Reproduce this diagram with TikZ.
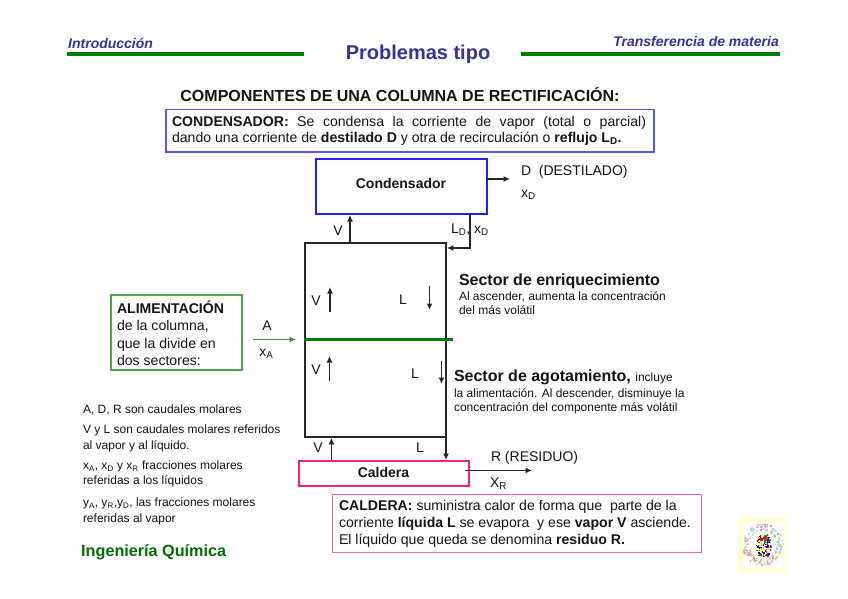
\documentclass[tikz,border=0pt]{standalone}
\usepackage{fontspec}
\setmainfont{Liberation Sans}
\usetikzlibrary{arrows.meta}
\definecolor{titleblue}{RGB}{51,51,153}
\definecolor{rulegreen}{RGB}{0,128,0}
\definecolor{boxblue}{RGB}{30,30,255}
\definecolor{boxpink}{RGB}{255,30,120}
\definecolor{txt}{RGB}{20,20,20}
\definecolor{logoy}{RGB}{255,255,210}
\newcommand{\fs}[1]{\fontsize{#1}{#1}\selectfont}
\newcommand{\sbs}[1]{\textsubscript{#1}}
\tikzset{
 x=1pt,y=-1pt,
 lab/.style={inner sep=0pt,outer sep=0pt,text=txt,font=\fs{14}},
 small/.style={lab,font=\fs{12},align=left,anchor=north west},
 para/.style={lab,align=left,anchor=north west,font=\fs{14.1}},
 head/.style={text=titleblue,inner sep=0pt,font=\fs{14}\bfseries\itshape},
 flow/.style={draw=black!85,line width=1.2pt,-{Latex[length=6.5pt,width=6pt]}},
 blockb/.style={draw=boxblue,line width=2pt,inner sep=0pt},
 blockp/.style={draw=boxpink,line width=2pt,inner sep=0pt},
 headrule/.style={draw=rulegreen,line width=3.4pt},
 divider/.style={draw=rulegreen,line width=2.2pt},
}
\begin{document}
\begin{tikzpicture}
\useasboundingbox[fill=white] (0,0) rectangle (848,599);
% header
\node[head,anchor=base west] (intro) at (68,48.5) {Introducción};
\node[head,anchor=base east] (transf) at (779,47) {Transferencia de materia};
\node[text=titleblue,inner sep=0pt,font=\fs{20}\bfseries,anchor=base] (title) at (418,60) {Problemas tipo};
\coordinate (r1a) at (67,54); \coordinate (r1b) at (304,54);
\coordinate (r2a) at (521,54); \coordinate (r2b) at (780,54);
\draw[headrule] (r1a) -- (r1b);
\draw[headrule] (r2a) -- (r2b);
\node[lab,font=\fs{16}\bfseries,anchor=base] (comp) at (400,101.5) {COMPONENTES DE UNA COLUMNA DE RECTIFICACIÓN:};
% condenser note
\node[draw=boxblue!75,line width=1.5pt,minimum width=488,minimum height=42,inner sep=0pt,anchor=north west] (cnote) at (165,109) {};
\node[lab,font=\fs{14.1},anchor=base west] (cn1) at (172,126) {\makebox[474pt][s]{\textbf{CONDENSADOR:} Se condensa la corriente de vapor (total o parcial)}};
\node[lab,font=\fs{14.1},anchor=base west] (cn2) at (172,142.5) {dando una corriente de \textbf{destilado D} y otra de recirculación o \textbf{reflujo L\sbs{D}.}};
% main blocks
\node[blockb,minimum width=171,minimum height=55,anchor=north west] (cond) at (315,158) {};
\node[lab,font=\fs{14}\bfseries] at (401,183.5) {Condensador};
\node[draw=black!85,line width=1.9pt,minimum width=141,minimum height=194,inner sep=0pt,anchor=north west] (col) at (304,242) {};
\node[blockp,minimum width=170,minimum height=25,anchor=north west] (cald) at (298,460) {};
\node[lab,font=\fs{14}\bfseries] at (383.5,472.5) {Caldera};
% condenser connectors
\draw[flow] (col.north -| 350,0) -- (cond.south -| 350,0);
\coordinate (ldc) at (470,248);
\draw[flow] (cond.south -| 470,0) -- (ldc) -- (ldc -| col.east);
\coordinate (dout) at (510,179);
\draw[flow] (dout -| cond.east) ++(-2,0) -- (dout);
\node[lab,anchor=base west] (dl) at (521,175) {D\ \ (DESTILADO)};
\node[lab,anchor=base west] (xd) at (521,197) {x\sbs{D}};
\node[lab] (vtop) at (338,231) {V};
\node[lab,anchor=base west] (ld) at (451,233) {L\sbs{D}, x\sbs{D}};
% inner arrows
\coordinate (v1a) at (330,312); \coordinate (v1b) at (330,287);
\draw[flow] (v1a) -- (v1b);
\node[lab] (v1) at (316,301) {V};
\coordinate (l1a) at (429.5,286); \coordinate (l1b) at (429.5,310);
\draw[flow] (l1a) -- (l1b);
\node[lab] (l1) at (403,300) {L};
\coordinate (v2a) at (329.5,381); \coordinate (v2b) at (329.5,356);
\draw[flow] (v2a) -- (v2b);
\node[lab] (v2) at (316,370) {V};
\coordinate (l2a) at (441.5,361); \coordinate (l2b) at (441.5,384);
\draw[flow] (l2a) -- (l2b);
\node[lab] (l2) at (415,374) {L};
% bottom connectors
\draw[flow] (cald.north -| 331.5,0) -- (col.south -| 331.5,0);
\draw[flow] (col.south -| 446,0) -- (cald.north -| 446,0);
\node[lab] (vb) at (318,448) {V};
\node[lab] (lb) at (420,448) {L};
\coordinate (rout) at (532,470.5);
\draw[flow] (rout -| cald.east) ++(-5,0) -- (rout);
\node[lab,anchor=base west] (rr) at (491,461) {R (RESIDUO)};
\node[lab,anchor=base west] (xr) at (490,487) {X\sbs{R}};
% feed
\node[draw=rulegreen!70!white,line width=1.5pt,minimum width=131,minimum height=75,inner sep=0pt,anchor=north west] (alim) at (110,294) {};
\node[para,font=\fs{14.1}] (at) at (117,301) {\textbf{ALIMENTACIÓN}\\[3.3pt]de la columna,\\[3.3pt]que la divide en\\[3.3pt]dos sectores:};
\coordinate (aa) at (253,339.5);
\draw[draw=rulegreen!80!white,line width=1.1pt,-{Latex[length=6.5pt,width=6pt]}] (aa) -- (296,339.5);
\node[lab] (a) at (267,326) {A};
\node[lab,anchor=base] (xa) at (266.5,356) {x\sbs{A}};
% sector texts
\node[lab,font=\fs{16}\bfseries,anchor=base west] (se) at (459,285) {Sector de enriquecimiento};
\node[small] (se2) at (459,291.5) {Al ascender, aumenta la concentración\\[2pt]del más volátil};
\node[lab,anchor=base west] (sa) at (454,381) {\fs{16}\textbf{Sector de agotamiento,} \fs{12}incluye};
\node[small] (sa2) at (454,388.5) {la alimentación. Al descender, disminuye la\\[2pt]concentración del componente más volátil};
% legend
\node[small] (g1) at (83,404.5) {A, D, R son caudales molares};
\node[small] (g2) at (83,424.5) {V y L son caudales molares referidos\\[4pt]al vapor y al líquido.};
\node[small] (g3) at (83,461) {x\sbs{A}, x\sbs{D} y x\sbs{R} fracciones molares\\[3pt]referidas a los líquidos};
\node[small] (g4) at (83,497.5) {y\sbs{A}, y\sbs{R},y\sbs{D}, las fracciones molares\\[4pt]referidas al vapor};
\node[inner sep=0pt,text=rulegreen!85!black,font=\fs{16.2}\bfseries,anchor=base west] (iq) at (81,556) {Ingeniería Química};
% caldera note
\node[draw=boxpink!70!white,line width=1.4pt,minimum width=369,minimum height=58,inner sep=0pt,anchor=north west] (knote) at (332,494) {};
\node[para] (kt) at (339,500.5) {\textbf{CALDERA:} suministra calor de forma que\ \ parte de la\\[3pt]corriente \textbf{líquida L} se evapora\ \ y ese \textbf{vapor V} asciende.\\[3pt]El líquido que queda se denomina \textbf{residuo R.}};
% divider
\coordinate (divL) at (304,339.5); \coordinate (divR) at (453,339.5);
\draw[divider] (divL) -- (divR);
% logo
\fill[logoy] (738,517) rectangle (786,572);
\fill[white] (743,522) rectangle (783,568);
\pgfmathsetseed{4242}
\foreach \i in {1,...,170}{
  \pgfmathsetmacro{\ang}{rnd*360}
  \pgfmathsetmacro{\rad}{14+rnd*6}
  \pgfmathsetmacro{\cc}{int(rnd*6)}
  \ifcase\cc\def\col{red!40}\or\def\col{cyan!40}\or\def\col{orange!50}\or\def\col{magenta!30}\or\def\col{green!30}\or\def\col{black!30}\fi
  \fill[\col] ({763+\rad*cos(\ang)-.7},{545+1.05*\rad*sin(\ang)-.7}) rectangle ++(1.6,1.6);
}
\foreach \i in {1,...,130}{
  \pgfmathsetmacro{\xx}{rnd*16-8}
  \pgfmathsetmacro{\yy}{rnd*22-12}
  \pgfmathsetmacro{\cc}{int(rnd*6)}
  \ifcase\cc\def\col{blue!90!black}\or\def\col{yellow!90!orange}\or\def\col{red}\or\def\col{black!80}\or\def\col{magenta}\or\def\col{green!70!black}\fi
  \fill[\col] ({763+\xx*(1-abs(\yy)/30)},{546+\yy}) rectangle ++(1.5,1.5);
}
\end{tikzpicture}
\end{document}
